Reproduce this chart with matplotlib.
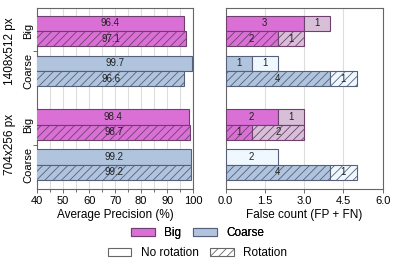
import numpy as np
import matplotlib.pyplot as plt
from matplotlib.patches import Patch
from matplotlib.transforms import blended_transform_factory

plt.rcParams['font.family'] = ['Liberation Sans', 'DejaVu Sans']
plt.rcParams['hatch.linewidth'] = 0.6

# data
resolutions = ['1408x512 px', '704x256 px']
models = ['Big', 'Coarse', 'Big', 'Coarse']
ap_norot = [96.4, 99.7, 98.4, 99.2]
ap_rot = [97.1, 96.6, 98.7, 99.2]
fp_norot = [3, 1, 2, 0]
fn_norot = [1, 1, 1, 2]
fp_rot = [2, 4, 1, 4]
fn_rot = [1, 1, 2, 1]

dark = ['#DA70D6', '#B0C4DE', '#DA70D6', '#B0C4DE']
light = ['#D8BFD8', '#F0F8FF', '#D8BFD8', '#F0F8FF']
edges = ['#6e406e', '#56607a', '#6e406e', '#56607a']

centers = np.array([0, 2.6, 6.1, 8.7])
y_norot = centers - 0.5
y_rot = centers + 0.5
h = 1.0
hatch = '////'

fig = plt.figure(figsize=(3.95, 2.68), dpi=100)
ax1 = fig.add_axes([0.094, 0.295, 0.395, 0.675])
ax2 = fig.add_axes([0.571, 0.295, 0.398, 0.675])

# left: average precision
for i in range(4):
    ax1.barh(y_norot[i], ap_norot[i], height=h, color=dark[i], edgecolor=edges[i], lw=0.8, zorder=3)
    ax1.barh(y_rot[i], ap_rot[i], height=h, color=dark[i], edgecolor=edges[i], lw=0.8, hatch=hatch, zorder=3)
    ax1.text((40 + ap_norot[i]) / 2, y_norot[i], f'{ap_norot[i]:.1f}', ha='center', va='center', fontsize=7, color='#222222', zorder=4)
    ax1.text((40 + ap_rot[i]) / 2, y_rot[i], f'{ap_rot[i]:.1f}', ha='center', va='center', fontsize=7, color='#222222', zorder=4)

ax1.set_xlim(40, 100)
ax1.set_xticks(range(40, 101, 10))
ax1.set_xticks(range(45, 100, 10), minor=True)
ax1.grid(axis='x', which='both', color='#dddddd', lw=0.8, zorder=0)
ax1.set_xlabel('Average Precision (%)', fontsize=8.5, labelpad=2)

# right: false count
for i in range(4):
    for y, fp, fn, hh in [(y_norot[i], fp_norot[i], fn_norot[i], None), (y_rot[i], fp_rot[i], fn_rot[i], hatch)]:
        if fp > 0:
            ax2.barh(y, fp, height=h, color=dark[i], edgecolor=edges[i], lw=0.8, hatch=hh, zorder=3)
            ax2.text(fp / 2, y, str(fp), ha='center', va='center', fontsize=7, color='#222222', zorder=4)
        ax2.barh(y, fn, left=fp, height=h, color=light[i], edgecolor=edges[i], lw=0.8, hatch=hh, zorder=3)
        ax2.text(fp + fn / 2, y, str(fn), ha='center', va='center', fontsize=7, color='#222222', zorder=4)

ax2.set_xlim(0, 6)
ax2.set_xticks([0, 1.5, 3.0, 4.5, 6.0])
ax2.set_xticklabels(['0.0', '1.5', '3.0', '4.5', '6.0'])
ax2.grid(axis='x', color='#dddddd', lw=0.8, zorder=0)
ax2.set_xlabel('False count (FP + FN)', fontsize=8.5, labelpad=2)

mids = [(centers[0] + centers[1]) / 2, (centers[2] + centers[3]) / 2]
for ax in (ax1, ax2):
    ax.set_ylim(10.28, -1.5)
    ax.set_yticks(mids)
    ax.set_yticklabels([])
    ax.tick_params(axis='x', labelsize=8, length=3, width=0.6, color='#555555', pad=2)
    ax.tick_params(axis='x', which='minor', length=2, width=0.6, color='#555555')
    ax.tick_params(axis='y', length=3, width=0.6, color='#555555')
    for s in ax.spines.values():
        s.set_color('#666666')
        s.set_linewidth(0.8)

ax2.set_yticks([])
ax1.set_yticks(centers, minor=True)
ax1.set_yticklabels(models, minor=True, rotation=90, va='center', fontsize=8)
ax1.tick_params(axis='y', which='minor', length=0, pad=3)

tr = blended_transform_factory(fig.transFigure, ax1.transData)
for m, r in zip(mids, resolutions):
    fig.text(0.025, m, r, transform=tr, rotation=90, ha='center', va='center', fontsize=8.5)

leg1 = fig.legend(handles=[Patch(facecolor='#DA70D6', edgecolor='#6e406e', lw=0.8, label='Big'),
                           Patch(facecolor='#B0C4DE', edgecolor='#56607a', lw=0.8, label='Coarse')],
                  loc='center', bbox_to_anchor=(0.5, 0.131), ncol=2, frameon=False, fontsize=8.5,
                  handlelength=2.0, handletextpad=0.8, columnspacing=1.0)
leg2 = fig.legend(handles=[Patch(facecolor='white', edgecolor='#666666', lw=0.8, label='No rotation'),
                           Patch(facecolor='white', edgecolor='#666666', lw=0.8, hatch=hatch, label='Rotation')],
                  loc='center', bbox_to_anchor=(0.5, 0.056), ncol=2, frameon=False, fontsize=8.5,
                  handlelength=2.0, handletextpad=0.8, columnspacing=1.0)
fig.add_artist(leg1)

fig.savefig('out.png', dpi=100)
